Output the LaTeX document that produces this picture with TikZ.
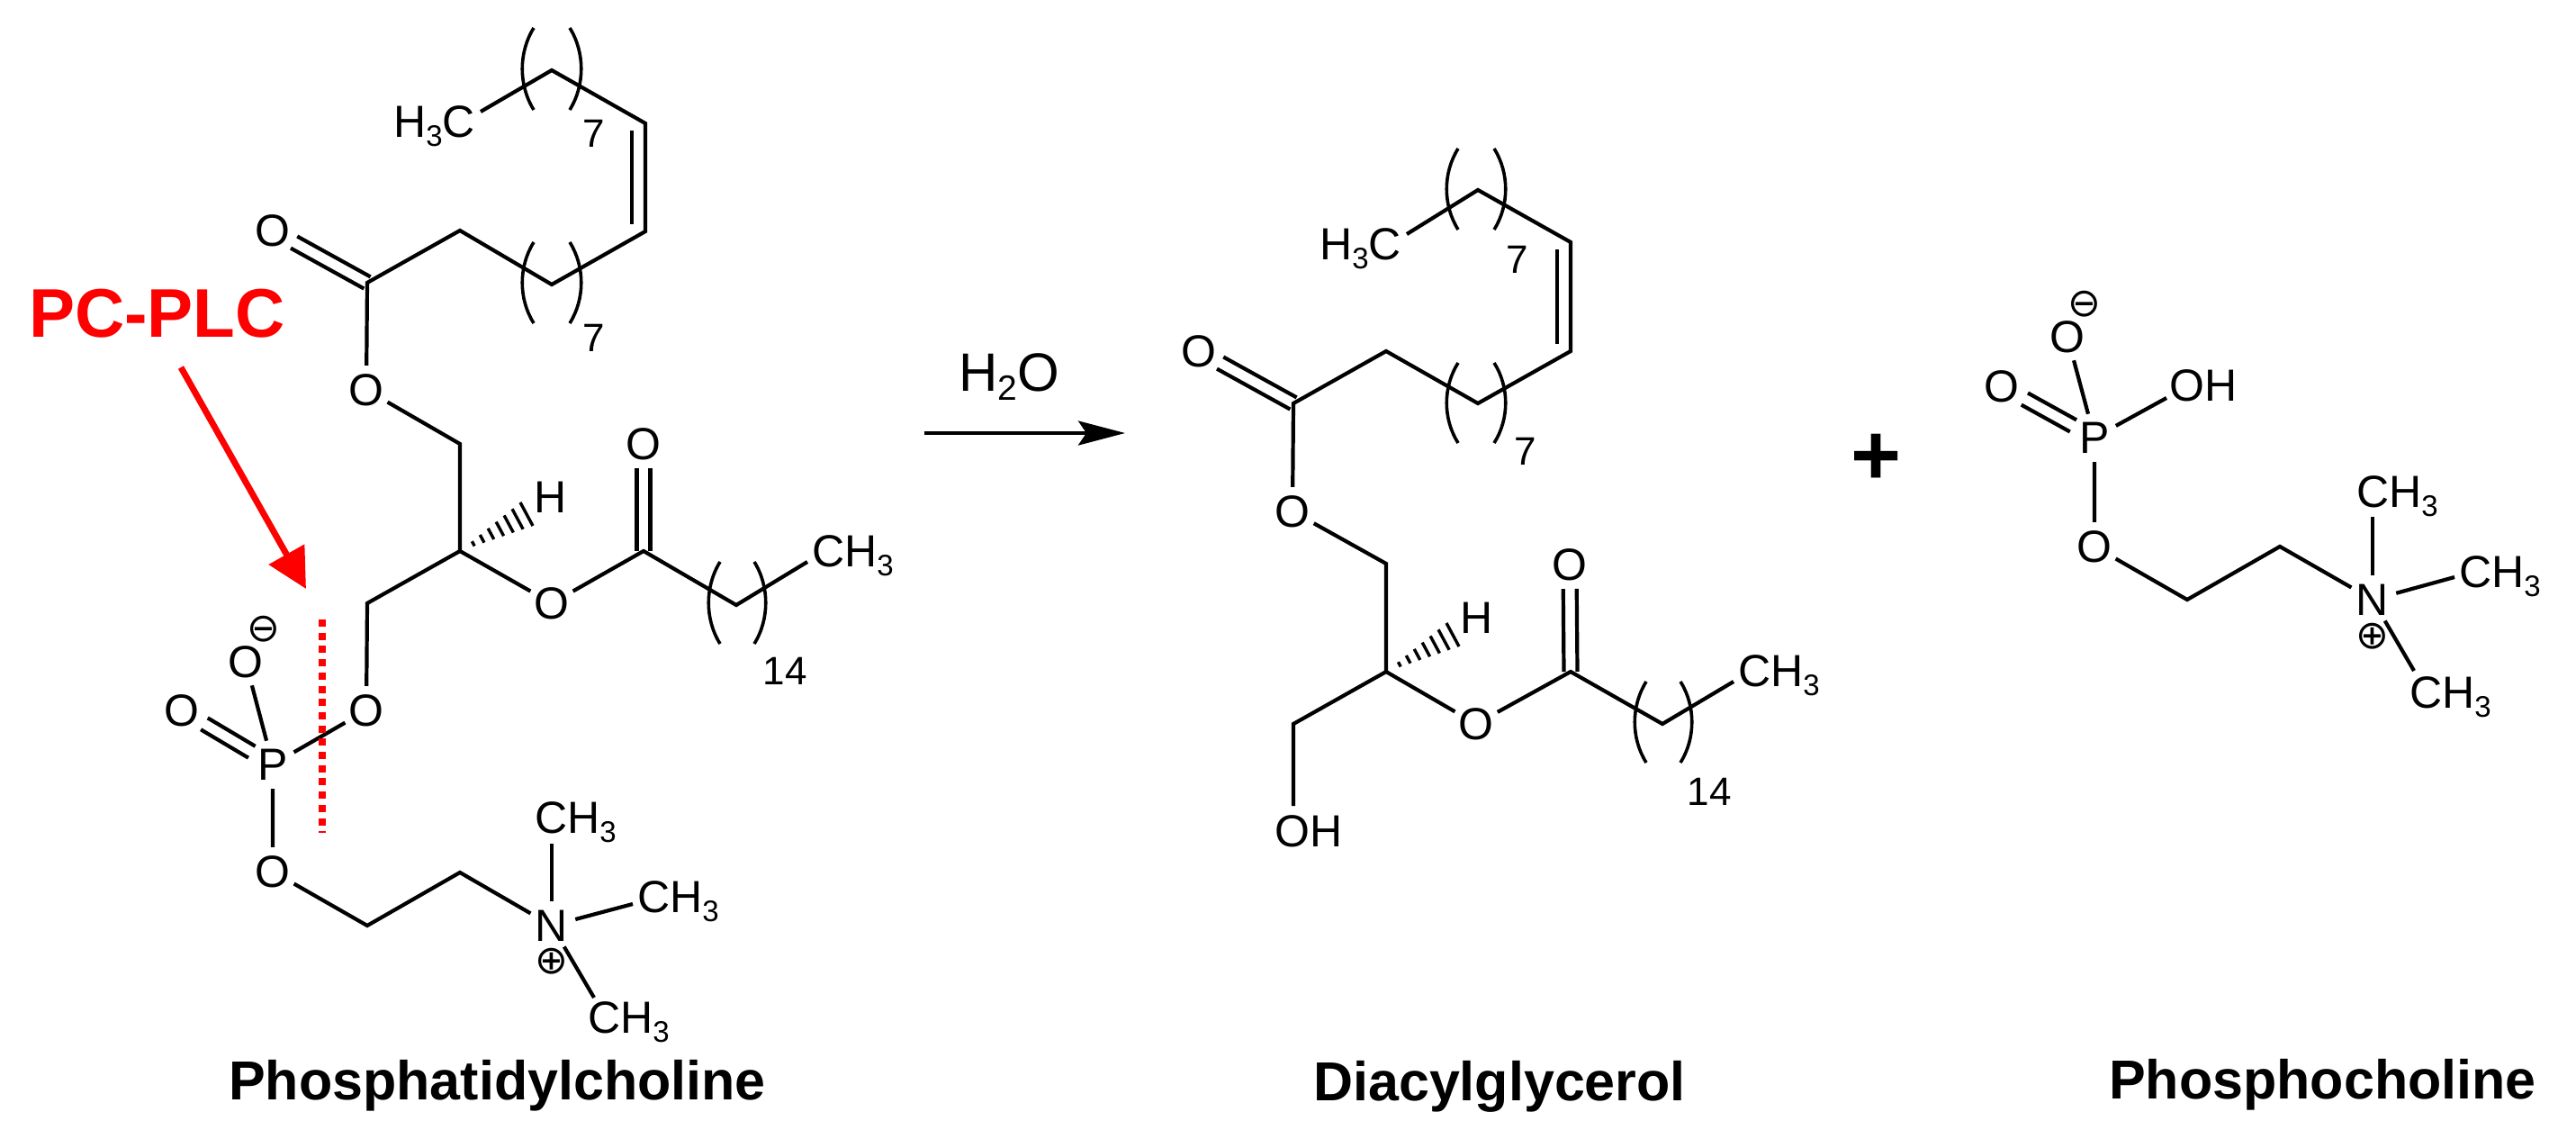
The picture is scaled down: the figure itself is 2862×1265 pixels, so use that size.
\documentclass[tikz,border=0pt]{standalone}
\usepackage{fontspec}
\setmainfont{Liberation Sans}
\newfontfamily\djv{DejaVu Sans}
\usetikzlibrary{calc,arrows.meta}
\newcommand\atomf{\fontsize{50}{60}\selectfont}
\newcommand\numf{\fontsize{44}{50}\selectfont}
\newcommand\namef{\fontsize{61}{70}\selectfont\bfseries}
\newcommand\chgf{\fontsize{44}{50}\selectfont\djv}
\newcommand\lowd[1]{\raisebox{-10pt}{\fontsize{33}{33}\selectfont #1}}
\newcommand\dblb[4]{%
  \draw[bond,shorten <=#3pt,shorten >=#4pt] ($(#1.center)!7.5pt!90:(#2.center)$) -- ($(#2.center)!7.5pt!-90:(#1.center)$);
  \draw[bond,shorten <=#3pt,shorten >=#4pt] ($(#1.center)!7.5pt!-90:(#2.center)$) -- ($(#2.center)!7.5pt!90:(#1.center)$);}
\newcommand\innerb[2]{%
  \draw[bond,shorten <=8pt,shorten >=8pt] ($(#1.center)!15pt!-90:(#2.center)$) -- ($(#2.center)!15pt!90:(#1.center)$);}
\newcommand\parensb[4]{%
  \draw[paren] (#1,#3) .. controls +(-17,{0.3*(#4-#3)}) and +(-17,{-0.3*(#4-#3)}) .. (#1,#4);
  \draw[paren] (#2,#3) .. controls +(17,{0.3*(#4-#3)}) and +(17,{-0.3*(#4-#3)}) .. (#2,#4);}
\newcommand\hashw[1]{%
  \coordinate (#1a) at ($(#1)+(81,-28)$);
  \coordinate (#1b) at ($(#1)+(67,-54)$);
  \foreach \hh in {0.2,0.333,0.466,0.6,0.733,0.866,1}
    \draw[hashln] ($(#1)!\hh!(#1a)$) -- ($(#1)!\hh!(#1b)$);}
\tikzset{
  bond/.style={line width=4.2pt,black},
  paren/.style={line width=3.6pt,black},
  hashln/.style={line width=3.4pt,black},
  atom/.style={circle,inner sep=0pt,minimum size=54pt,font=\atomf},
  lbl/.style={inner sep=0pt,anchor=base west,font=\atomf},
  lble/.style={inner sep=0pt,anchor=base east,font=\atomf},
  num/.style={inner sep=0pt,font=\numf},
  chg/.style={inner sep=0pt,font=\chgf},
  molname/.style={inner sep=0pt,anchor=base west,font=\namef},
}
\begin{document}
\begin{tikzpicture}[x=1pt,y=-1pt]
\useasboundingbox (0,0) rectangle (2862,1265);
\fill[white] (0,0) rectangle (2862,1265);

% ---------- Phosphatidylcholine ----------
\node[lble] (aMe) at (528,153) {H\lowd{3}C};
\coordinate (a1) at (613,78);
\coordinate (a2) at (717,137);
\coordinate (a3) at (717,257);
\coordinate (a4) at (613,316);
\coordinate (a5) at (511,256);
\coordinate (ac1) at (408,314);
\node[atom] (aO1) at (303,256) {O};
\node[atom] (aO2) at (407,433) {O};
\coordinate (a6) at (511,493);
\coordinate (ach) at (511,612);
\node[atom] (aO3) at (613,670) {O};
\coordinate (ac2) at (715,612);
\node[atom] (aO5) at (715,493) {O};
\coordinate (a7) at (818,672);
\node[lbl] (aCH) at (902,629) {CH\lowd{3}};
\node[atom] (aH) at (612,552) {H};
\coordinate (a8) at (408,670);
\node[atom] (aO4) at (407,789) {O};
\node[atom] (aP) at (303,849) {P};
\node[atom] (aOm) at (273,735) {O};
\node[chg] (aMin) at (293,699) {⊖};
\node[atom] (aOd) at (202,789) {O};
\node[atom] (aO6) at (303,968) {O};
\coordinate (a9) at (408,1028);
\coordinate (a10) at (511,969);
\node[atom] (aN) at (613,1028) {N};
\node[chg] (aPl) at (613,1068) {⊕};
\node[lbl] (aCa) at (594,925) {CH\lowd{3}};
\node[lbl] (aCb) at (708,1013) {CH\lowd{3}};
\node[lbl] (aCc) at (653,1147) {CH\lowd{3}};
\node[num] (a7a) at (660,148) {7};
\node[num] (a7b) at (660,375) {7};
\node[num] (a14) at (872,745) {14};

\draw[bond] ([shift={(6,-29)}]aMe.base east) -- (a1) -- (a2) -- (a3) -- (a4) -- (a5) -- (ac1) -- (aO2) -- (a6) -- (ach) -- (aO3) -- (ac2) -- (a7) -- ([shift={(-5,-5)}]aCH.base west);
\innerb{a2}{a3}
\dblb{ac1}{aO1}{0}{27}
\dblb{ac2}{aO5}{0}{27}
\draw[bond] (ach) -- (a8) -- (aO4) -- (aP);
\draw[bond] (aP) -- (aOm);
\dblb{aP}{aOd}{27}{29}
\draw[bond] (aP) -- (aO6) -- (a9) -- (a10) -- (aN);
\draw[bond] (aN) -- ([shift={(19,12)}]aCa.base west);
\draw[bond] (aN) -- ([shift={(-5,-9)}]aCb.base west);
\draw[bond] (aN) -- ([shift={(7,-39)}]aCc.base west);
\hashw{ach}
\parensb{593}{633}{31}{122}
\parensb{593}{633}{269}{359}
\parensb{800}{838}{624}{715}

% ---------- enzyme ----------
\node[inner sep=0pt,anchor=base west,font=\fontsize{76.5}{80}\selectfont\bfseries,text=red] (plc) at (32,374) {PC-PLC};
\coordinate (plcT) at (340,654);
\draw[red,line width=7pt,-{Triangle[length=44pt,width=44pt]}] ([shift={(169,34)}]plc.base west) -- (plcT);
\coordinate (cutA) at (358,688);
\coordinate (cutB) at (358,925);
\draw[red,line width=8pt,dash pattern=on 8pt off 6.7pt] (cutA) -- (cutB);

% ---------- reaction arrow ----------
\node[inner sep=0pt,anchor=base,font=\fontsize{60}{60}\selectfont] (water) at (1121,434) {H\raisebox{-10pt}{\fontsize{39}{39}\selectfont 2}O};
\coordinate (rxA) at (1027,481);
\coordinate (rxB) at (1250,481);
\draw[line width=4pt,-{Stealth[length=52pt,width=27pt,inset=9pt]}] (rxA) -- (rxB);

% ---------- Diacylglycerol ----------
\node[lble] (bMe) at (1557,289) {H\lowd{3}C};
\coordinate (b1) at (1642,211);
\coordinate (b2) at (1745,269);
\coordinate (b3) at (1745,390);
\coordinate (b4) at (1642,448);
\coordinate (b5) at (1540,390);
\coordinate (bc1) at (1437,448);
\node[atom] (bO1) at (1332,390) {O};
\node[atom] (bO2) at (1436,568) {O};
\coordinate (b6) at (1540,626);
\coordinate (bch) at (1540,746);
\node[atom] (bO3) at (1640,804) {O};
\coordinate (bc2) at (1745,746);
\node[atom] (bO5) at (1744,627) {O};
\coordinate (b7) at (1847,804);
\node[lbl] (bCH) at (1931,762) {CH\lowd{3}};
\node[atom] (bH) at (1641,686) {H};
\coordinate (b8) at (1437,804);
\node[lbl] (bOH) at (1416,940) {OH};
\node[num] (b7a) at (1686,288) {7};
\node[num] (b7b) at (1695,501) {7};
\node[num] (b14) at (1899,879) {14};

\draw[bond] ([shift={(6,-29)}]bMe.base east) -- (b1) -- (b2) -- (b3) -- (b4) -- (b5) -- (bc1) -- (bO2) -- (b6) -- (bch) -- (bO3) -- (bc2) -- (b7) -- ([shift={(-5,-5)}]bCH.base west);
\innerb{b2}{b3}
\dblb{bc1}{bO1}{0}{27}
\dblb{bc2}{bO5}{0}{27}
\draw[bond] (bch) -- (b8) -- ([shift={(21,-45)}]bOH.base west);
\hashw{bch}
\parensb{1620}{1660}{165}{255}
\parensb{1620}{1660}{403}{492}
\parensb{1829}{1867}{757}{847}

% ---------- plus ----------
\node[inner sep=0pt,font=\fontsize{96}{96}\selectfont\bfseries] (plus) at (2085,510) {+};

% ---------- Phosphocholine ----------
\node[atom] (cOm) at (2297,374) {O};
\node[chg] (cMin) at (2316,338) {⊖};
\node[atom] (cOd) at (2224,429) {O};
\node[lbl] (cOH) at (2410,445) {OH};
\node[atom] (cP) at (2327,486) {P};
\node[atom] (cO) at (2327,607) {O};
\coordinate (c1) at (2430,666);
\coordinate (c2) at (2533,607);
\node[atom] (cN) at (2636,666) {N};
\node[chg] (cPl) at (2636,707) {⊕};
\node[lbl] (cCa) at (2618,563) {CH\lowd{3}};
\node[lbl] (cCb) at (2732,652) {CH\lowd{3}};
\node[lbl] (cCc) at (2677,786) {CH\lowd{3}};

\draw[bond] (cP) -- (cOm);
\dblb{cP}{cOd}{27}{29}
\draw[bond] (cP) -- ([shift={(-3,-3)}]cOH.base west);
\draw[bond] (cP) -- (cO) -- (c1) -- (c2) -- (cN);
\draw[bond] (cN) -- ([shift={(18,11)}]cCa.base west);
\draw[bond] (cN) -- ([shift={(-5,-11)}]cCb.base west);
\draw[bond] (cN) -- ([shift={(5,-41)}]cCc.base west);

% ---------- names ----------
\node[molname] (nPC) at (254,1221) {Phosphatidylcholine};
\node[molname] (nDAG) at (1459,1222) {Diacylglycerol};
\node[molname] (nPCh) at (2343,1220) {Phosphocholine};
\end{tikzpicture}
\end{document}
